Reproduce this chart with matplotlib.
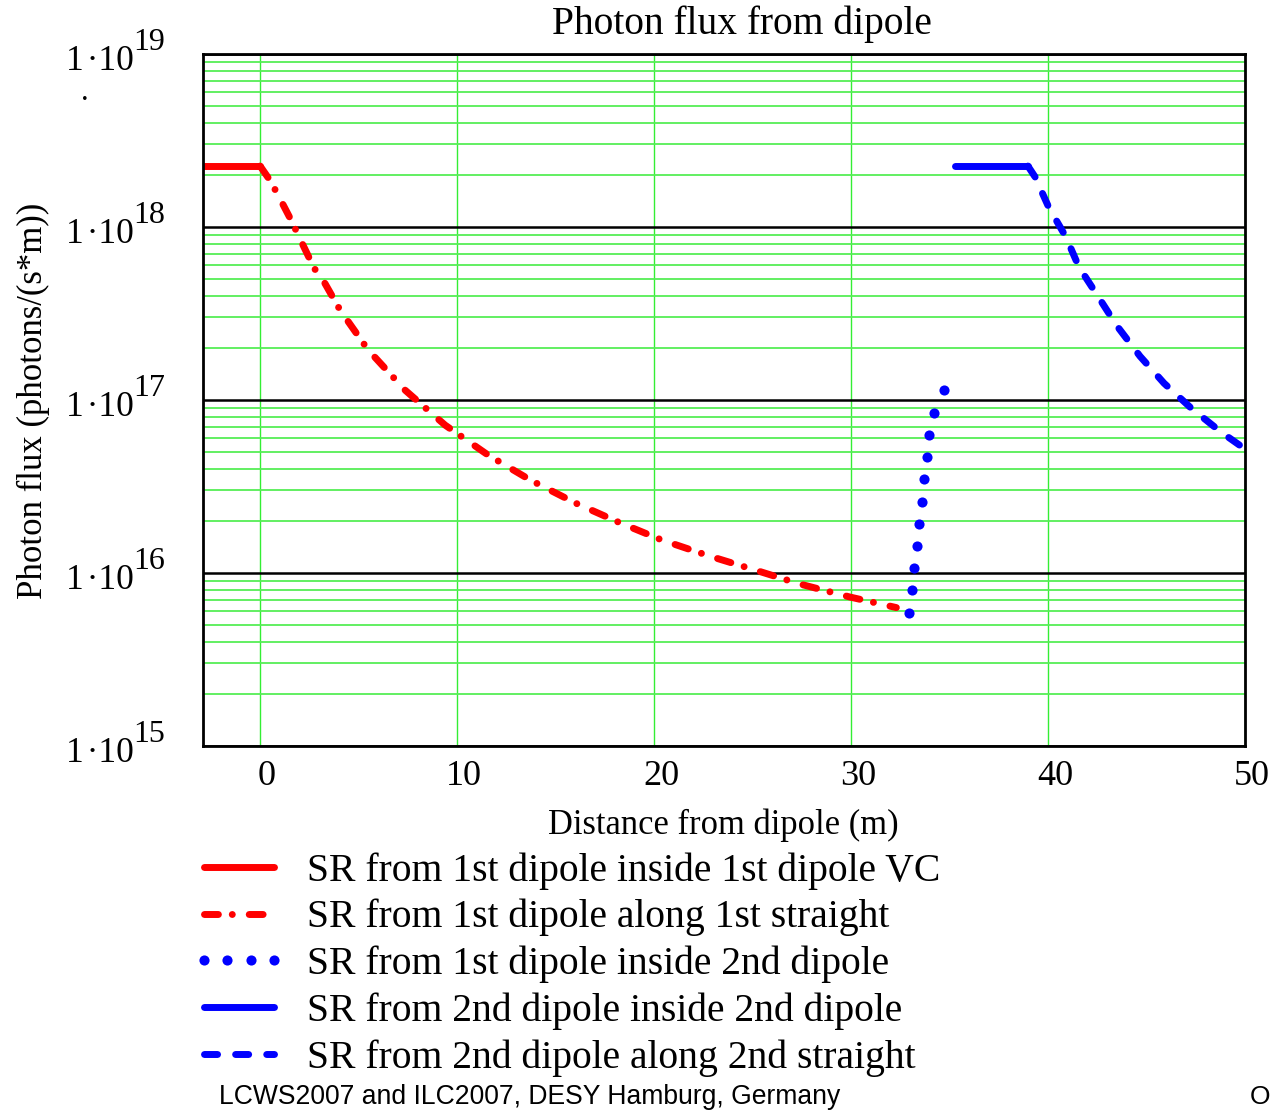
import math
import matplotlib.pyplot as plt
import matplotlib.transforms as mtransforms
from matplotlib.ticker import FixedLocator, FuncFormatter, LogLocator, NullFormatter

plt.rcParams['font.family'] = ['Liberation Serif', 'DejaVu Serif']
plt.rcParams['lines.scale_dashes'] = False

# distance from dipole (m) and photon flux (photons/(s*m))
x_vc1 = [-3.0, 0.0]
flux_vc1 = [2.25e18, 2.25e18]

x_str1 = [0.0, 0.46, 0.86, 1.62, 1.98, 2.74, 3.25, 4.06, 5.48, 7.36, 9.39, 11.57,
          13.71, 16.0, 18.27, 20.4, 22.84, 25.13, 27.41, 29.95, 32.3]
flux_str1 = [2.25e18, 1.89e18, 1.57e18, 1.07e18, 8.75e17, 5.79e17, 4.81e17, 3.31e17,
             1.95e17, 1.14e17, 7.16e16, 4.81e16, 3.45e16, 2.54e16, 1.95e16, 1.55e16,
             1.25e16, 1.04e16, 8.63e15, 7.26e15, 6.31e15]

x_d2_from1 = [32.94, 33.1, 33.2, 33.35, 33.45, 33.6, 33.7, 33.86, 33.96, 34.21, 34.72]
flux_d2_from1 = [5.87e15, 7.98e15, 1.07e16, 1.43e16, 1.92e16, 2.57e16, 3.49e16,
                 4.69e16, 6.28e16, 8.41e16, 1.14e17]

x_d2 = [35.28, 38.98]
flux_d2 = [2.25e18, 2.25e18]

x_str2 = [38.98, 39.34, 40.05, 40.91, 41.57, 42.49, 43.50, 44.67, 45.89, 47.26, 48.78, 50.0]
flux_str2 = [2.25e18, 1.95e18, 1.29e18, 8.75e17, 5.87e17, 4.05e17, 2.68e17, 1.79e17,
             1.25e17, 8.99e16, 6.53e16, 5.21e16]

labels = ['SR from 1st dipole inside 1st dipole VC',
          'SR from 1st dipole along 1st straight',
          'SR from 1st dipole inside 2nd dipole',
          'SR from 2nd dipole inside 2nd dipole',
          'SR from 2nd dipole along 2nd straight']

x_ticks = [0, 10, 20, 30, 40, 50]
y_ticks = [1e15, 1e16, 1e17, 1e18, 1e19]

W, H = 1272, 1110
fig = plt.figure(figsize=(W / 100, H / 100), dpi=100)
ax = fig.add_axes([203 / W, 1 - 746 / H, (1245 - 203) / W, (746 - 54) / H])

red, blue = '#ff0000', '#0000ff'
lw = 5
l1, = ax.plot(x_vc1, flux_vc1, color=red, lw=lw, solid_capstyle='round')
l2, = ax.plot(x_str1, flux_str1, color=red, lw=lw, dash_capstyle='round',
              dashes=[10, 10, 0.01, 12.2])
l3, = ax.plot(x_d2_from1, flux_d2_from1, color=blue, ls='none', marker='o',
              markersize=7.3, markeredgewidth=0)
l4, = ax.plot(x_d2, flux_d2, color=blue, lw=lw, solid_capstyle='round')
l5, = ax.plot(x_str2, flux_str2, color=blue, lw=lw, dash_capstyle='round',
              dashes=[9.4, 13])

ax.set_yscale('log')
ax.set_xlim(-2.9, 50)
ax.set_ylim(1e15, 1e19)

ax.xaxis.set_major_locator(FixedLocator(x_ticks))
ax.yaxis.set_major_locator(FixedLocator(y_ticks))
ax.yaxis.set_minor_locator(LogLocator(base=10, subs=range(2, 10)))
ax.yaxis.set_minor_formatter(NullFormatter())
ax.yaxis.set_major_formatter(FuncFormatter(lambda v, p: '1\u200a·10'))

ax.xaxis.grid(True, which='major', color='#33ee33', lw=1.0)
ax.yaxis.grid(True, which='major', color='black', lw=1.8)
ax.yaxis.grid(True, which='minor', color='#55ee55', lw=1.3)

ax.tick_params(axis='both', which='both', length=0)
ax.tick_params(axis='x', labelsize=26, pad=10)
ax.tick_params(axis='y', labelsize=25.5, pad=50)
for sp in ax.spines.values():
    sp.set_linewidth(2.0)

xshift = mtransforms.ScaledTranslation(7 / 100, 0, fig.dpi_scale_trans)
for lab in ax.get_xticklabels():
    lab.set_transform(lab.get_transform() + xshift)
yshift = mtransforms.ScaledTranslation(0, -16 / 100, fig.dpi_scale_trans)
for lab in ax.get_yticklabels():
    lab.set_verticalalignment('baseline')
    lab.set_transform(lab.get_transform() + yshift)

# powers of ten written as raised exponents next to each decade label
for v in y_ticks:
    ax.annotate(str(round(math.log10(v))), xy=(0, v), xycoords=ax.get_yaxis_transform(),
                xytext=(-70, 4), textcoords='offset pixels', ha='left', va='baseline',
                fontsize=23, annotation_clip=False)

fig.text(742 / W, 1 - 24 / H, 'Photon flux from dipole', ha='center', va='center', fontsize=28.4)
fig.text(723 / W, 1 - 825 / H, 'Distance from dipole (m)', ha='center', va='center', fontsize=24.85)
fig.text(33 / W, 1 - 401 / H, 'Photon flux (photons/(s*m))', ha='center', va='center',
         rotation=90, fontsize=25)
fig.text(85 / W, 1 - 93 / H, '.', ha='center', va='center', fontsize=22)

fig.legend([l1, l2, l3, l4, l5], labels, loc='upper left',
           bbox_to_anchor=(192 / W, 1 - 852 / H), frameon=False, fontsize=28.5,
           handlelength=2.37, handletextpad=0.535, labelspacing=0.235, numpoints=4,
           borderpad=0, borderaxespad=0)

fig.text(219 / W, 1 - 1097 / H, 'LCWS2007 and ILC2007, DESY Hamburg, Germany',
         family='Liberation Sans', fontsize=19.1, ha='left', va='center')
fig.text(1260 / W, 1 - 1097 / H, 'O', family='Liberation Sans', fontsize=19,
         ha='center', va='center')

fig.savefig('out.png', dpi=100)
